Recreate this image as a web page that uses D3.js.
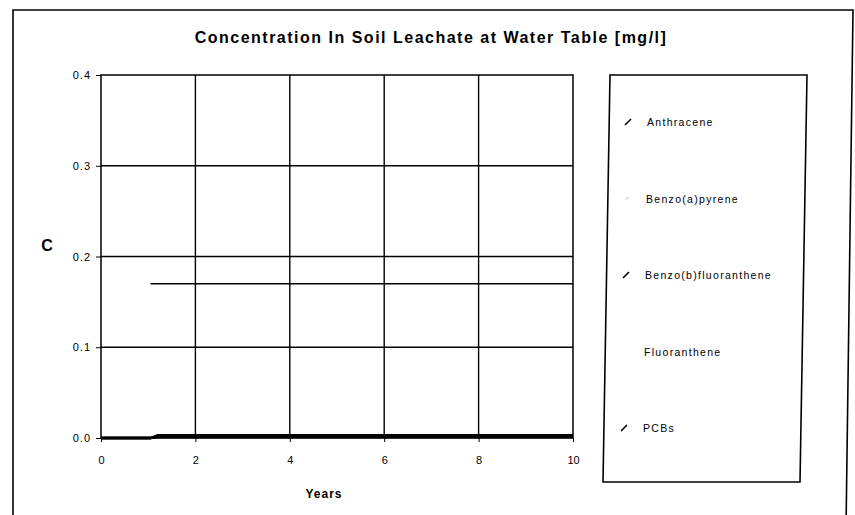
<!DOCTYPE html>
<html>
<head>
<meta charset="utf-8">
<script src="https://cdn.jsdelivr.net/npm/d3@7"></script>
<style>
  body { margin: 0; background: #fff; }
  text { font-family: Arial, "Liberation Sans", sans-serif; fill: #000; }
</style>
</head>
<body>
<svg width="855" height="515"></svg>
<script>
// data
var years = [0, 1.05, 1.2, 2, 4, 6, 8, 10];
var anthracene = [null, 0.17, 0.17, 0.17, 0.17, 0.17, 0.17, 0.17];
var benzoAPyrene = [0, 0, 0.003, 0.003, 0.003, 0.003, 0.003, 0.003];
var benzoBFluoranthene = [0, 0, 0.002, 0.002, 0.002, 0.002, 0.002, 0.002];
var fluoranthene = [0, 0, 0.001, 0.001, 0.001, 0.001, 0.001, 0.001];
var pcbs = [0, 0, 0.0015, 0.0015, 0.0015, 0.0015, 0.0015, 0.0015];
var seriesNames = ["Anthracene", "Benzo(a)pyrene", "Benzo(b)fluoranthene", "Fluoranthene", "PCBs"];
var xTicks = [0, 2, 4, 6, 8, 10];
var yTicks = [0, 0.1, 0.2, 0.3, 0.4];

var series = [anthracene, benzoAPyrene, benzoBFluoranthene, fluoranthene, pcbs];

var svg = d3.select("svg");

// outer chart frame (scan is a bit skewed)
svg.append("path")
    .attr("d", "M13,530 L13,10 L853,10 L846,530")
    .attr("fill", "none")
    .attr("stroke", "#000")
    .attr("stroke-width", 1.6);

var x = d3.scaleLinear().domain([0, 10]).range([101, 573]);
var y = d3.scaleLinear().domain([0, 0.4]).range([438, 75]);

// grid
svg.append("g")
    .selectAll("line")
    .data(yTicks.slice(1, -1))
    .enter().append("line")
    .attr("x1", x(0)).attr("x2", x(10))
    .attr("y1", function (d) { return y(d); })
    .attr("y2", function (d) { return y(d); })
    .attr("stroke", "#000").attr("stroke-width", 1.4);

svg.append("g")
    .selectAll("line")
    .data(xTicks.slice(1, -1))
    .enter().append("line")
    .attr("y1", y(0)).attr("y2", y(0.4))
    .attr("x1", function (d) { return x(d); })
    .attr("x2", function (d) { return x(d); })
    .attr("stroke", "#000").attr("stroke-width", 1.4);

// plot border
svg.append("rect")
    .attr("x", x(0)).attr("y", y(0.4))
    .attr("width", x(10) - x(0)).attr("height", y(0) - y(0.4))
    .attr("fill", "none").attr("stroke", "#000").attr("stroke-width", 1.5);

// axes
var yAxis = d3.axisLeft(y)
    .tickValues(yTicks)
    .tickSize(5)
    .tickPadding(5)
    .tickFormat(d3.format(".1f"));
var yG = svg.append("g")
    .attr("transform", "translate(" + x(0) + ",0)")
    .call(yAxis);
yG.select(".domain").remove();
yG.selectAll("text").style("font-size", "11px").style("letter-spacing", "1px");

var xAxis = d3.axisBottom(x)
    .tickValues(xTicks)
    .tickSize(4)
    .tickPadding(14)
    .tickFormat(d3.format("d"));
var xG = svg.append("g")
    .attr("transform", "translate(0," + y(0) + ")")
    .call(xAxis);
xG.select(".domain").remove();
xG.selectAll("text").style("font-size", "11px");

// series lines
var line = d3.line()
    .defined(function (d) { return d[1] !== null; })
    .x(function (d) { return x(d[0]); })
    .y(function (d) { return y(d[1]); });

svg.append("g")
    .selectAll("path")
    .data(series)
    .enter().append("path")
    .attr("d", function (s) { return line(years.map(function (yr, i) { return [yr, s[i]]; })); })
    .attr("fill", "none")
    .attr("stroke", "#000")
    .attr("stroke-width", function (s, i) { return i === 0 ? 1.5 : 2.4; });

// titles
svg.append("text")
    .attr("x", 431).attr("y", 43)
    .attr("text-anchor", "middle")
    .style("font-size", "16px").style("font-weight", "bold")
    .style("letter-spacing", "1.5px")
    .text("Concentration In Soil Leachate at Water Table [mg/l]");

svg.append("text")
    .attr("x", 47).attr("y", 251)
    .attr("text-anchor", "middle")
    .style("font-size", "16px").style("font-weight", "bold")
    .text("C");

svg.append("text")
    .attr("x", 324).attr("y", 498)
    .attr("text-anchor", "middle")
    .style("font-size", "12px").style("font-weight", "bold")
    .style("letter-spacing", "1px")
    .text("Years");

// legend box
svg.append("path")
    .attr("d", "M610,75 L807,75 L800,482 L603,482 Z")
    .attr("fill", "none")
    .attr("stroke", "#000")
    .attr("stroke-width", 1.6);

var legend = svg.append("g")
    .selectAll("g")
    .data(seriesNames)
    .enter().append("g")
    .attr("transform", function (d, i) { return "translate(" + (628 - i) + "," + (122 + i * 76.5) + ")"; });

// markers survive only faintly in the scan
legend.append("line")
    .attr("x1", -3).attr("y1", 3).attr("x2", 3).attr("y2", -3)
    .attr("stroke", "#000")
    .attr("stroke-width", 1.6)
    .style("opacity", function (d, i) { return i === 3 ? 0 : 1; })
    .attr("transform", function (d, i) { return i === 1 ? "scale(0.3)" : null; });

legend.append("text")
    .attr("x", 19).attr("y", 4)
    .style("font-size", "10.5px")
    .style("letter-spacing", "1.3px")
    .text(function (d) { return d; });
</script>
</body>
</html>
